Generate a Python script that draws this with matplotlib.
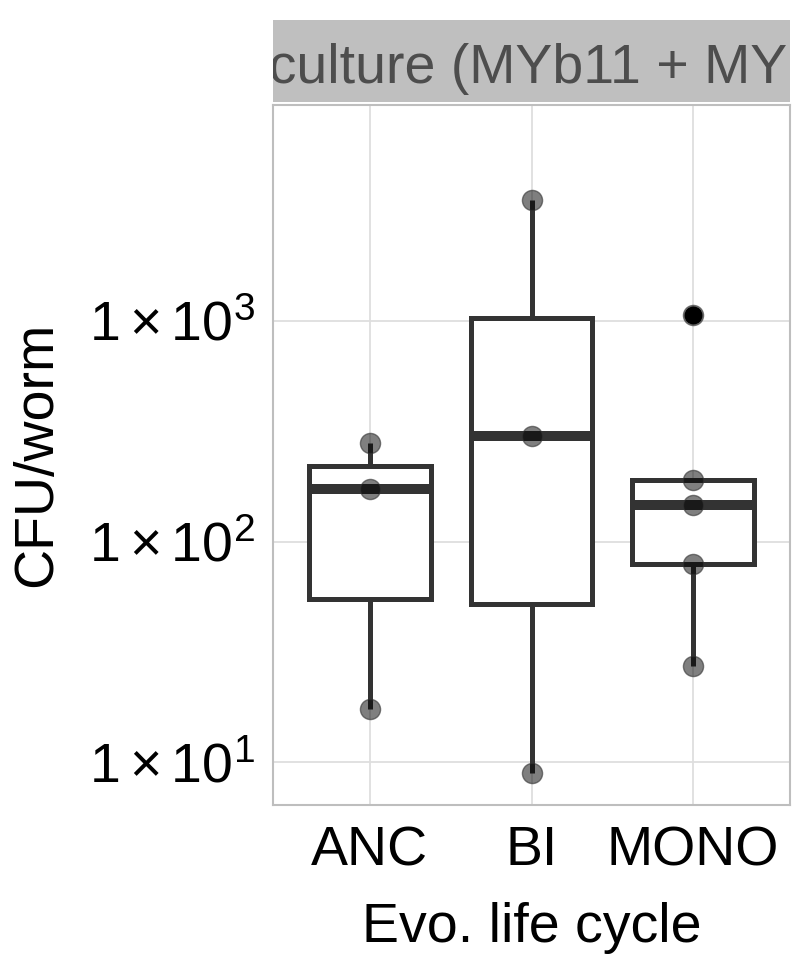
import numpy as np
import matplotlib
matplotlib.use("Agg")
import matplotlib.pyplot as plt
from matplotlib.ticker import FixedLocator, NullLocator

plt.rcParams['font.family'] = ['Liberation Sans', 'DejaVu Sans']
plt.rcParams['mathtext.fontset'] = 'custom'
plt.rcParams['mathtext.rm'] = 'Liberation Sans'
plt.rcParams['mathtext.it'] = 'Liberation Sans:italic'
plt.rcParams['mathtext.bf'] = 'Liberation Sans:bold'

# ---- data ----
categories = ["ANC", "BI", "MONO"]
anc_values = [279.7, 173.5, 17.5]
bi_values = [3506, 300, 9.0]
mono_values = [1061, 190, 146.6, 79.3, 27.2]
strip_title = "Co-culture (MYb11 + MYb71)"
x_label = "Evo. life cycle"
y_label = "CFU/worm"
y_ticks = [10, 100, 1000]
y_tick_labels = [r"$1\times10^{1}$", r"$1\times10^{2}$", r"$1\times10^{3}$"]
y_limits = (6.45, 9484)

groups = [anc_values, bi_values, mono_values]

def log_stats(vals, label):
    lv = np.log10(np.asarray(vals, dtype=float))
    q1, med, q3 = np.percentile(lv, [25, 50, 75])
    iqr = q3 - q1
    lo_f, hi_f = q1 - 1.5 * iqr, q3 + 1.5 * iqr
    inside = lv[(lv >= lo_f) & (lv <= hi_f)]
    fl = lv[(lv < lo_f) | (lv > hi_f)]
    return dict(label=label, q1=10**q1, med=10**med, q3=10**q3,
                whislo=10**inside.min(), whishi=10**inside.max(),
                fliers=10**fl)

stats = [log_stats(v, c) for v, c in zip(groups, categories)]

fig = plt.figure(figsize=(8.1, 9.6), dpi=100)
ax = fig.add_axes([273/810, 1 - 804.5/960, 517/810, 699.5/960])
ax.set_yscale('log')

line_c = '#333333'
lw = 3.6
ax.bxp(stats, positions=[1, 2, 3], widths=0.75, showfliers=False,
       patch_artist=True, showcaps=False,
       boxprops=dict(facecolor='white', edgecolor=line_c, linewidth=lw),
       whiskerprops=dict(color=line_c, linewidth=lw, solid_capstyle='butt'),
       medianprops=dict(color=line_c, linewidth=7.2, solid_capstyle='butt'),
       zorder=2)

# outliers (ggplot default black points)
for i, s in enumerate(stats):
    if len(s['fliers']):
        ax.plot([i + 1] * len(s['fliers']), s['fliers'], 'o', color='black',
                markersize=13, markeredgewidth=0, zorder=3)

# data points
for i, vals in enumerate(groups):
    ax.plot([i + 1] * len(vals), vals, 'o', markersize=14.5,
            markerfacecolor=(0, 0, 0, 0.5), markeredgecolor=(0.2, 0.2, 0.2, 0.6),
            markeredgewidth=1.0, zorder=4, linestyle='none')

ax.set_xlim(0.4, 3.6)
ax.set_ylim(*y_limits)
ax.set_xticks([1, 2, 3])
ax.set_xticklabels(categories)
ax.yaxis.set_major_locator(FixedLocator(y_ticks))
ax.set_yticklabels(y_tick_labels)
ax.yaxis.set_minor_locator(NullLocator())
ax.tick_params(axis='both', length=0, labelsize=40, colors='black')
ax.tick_params(axis='y', pad=13)
ax.tick_params(axis='x', pad=15)
ax.grid(True, color='#DEDEDE', linewidth=1.3, zorder=0)
ax.set_axisbelow(True)
for sp in ax.spines.values():
    sp.set_color('#BEBEBE')
    sp.set_linewidth(1.5)

ax.set_xlabel(x_label, fontsize=40)
ax.set_ylabel(y_label, fontsize=40)
ax.xaxis.set_label_coords(0.5, -0.14)
ax.yaxis.set_label_coords(-0.405, 0.5)

# facet strip (title wider than the strip, clipped as in the original)
sax = fig.add_axes([273/810, 1 - 102/960, 517/810, 82/960])
sax.set_facecolor('#BFBFBF')
sax.set_xticks([]); sax.set_yticks([])
for sp in sax.spines.values():
    sp.set_visible(False)
sax.text(0.513, 0.40, strip_title, ha='center', va='center', fontsize=40,
         color='#4D4D4D', transform=sax.transAxes, clip_on=True)

fig.savefig('out.png', dpi=100)
